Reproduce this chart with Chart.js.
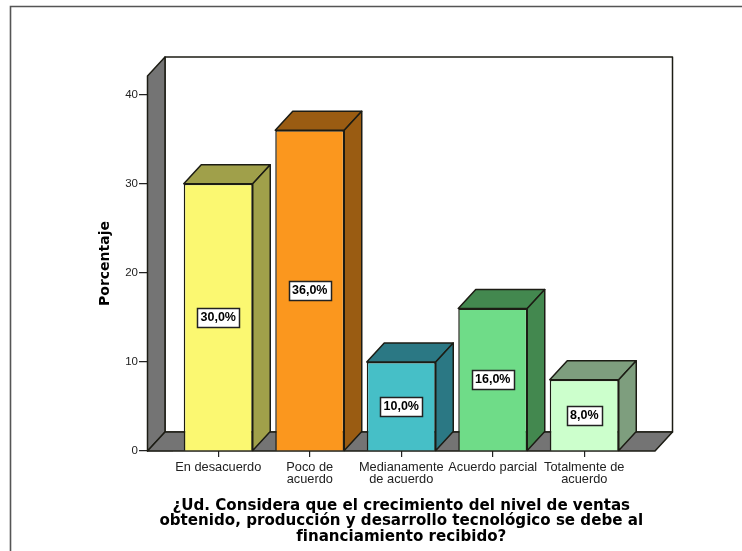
<!DOCTYPE html>
<html lang="es">
<head>
<meta charset="utf-8">
<style>html,body{margin:0;padding:0;background:#fff}canvas{display:block}</style>
<script src="https://cdn.jsdelivr.net/npm/chart.js@4"></script>
</head>
<body>
<canvas id="c" width="742" height="551"></canvas>
<script>
const categories = [
  "En desacuerdo",
  ["Poco de", "acuerdo"],
  ["Medianamente", "de acuerdo"],
  "Acuerdo parcial",
  ["Totalmente de", "acuerdo"]
];
const percentages = [30, 36, 10, 16, 8];
const yTicks = [0, 10, 20, 30, 40];
const frontColors = ["#FBF871", "#FB971E", "#46BFC7", "#6FDC88", "#CCFFCC"];
const sideColors = ["#A0A04A", "#9A5C12", "#2B7884", "#43884F", "#7E9E7E"];
const yTitle = "Porcentaje";
const xTitle = [
  "¿Ud. Considera que el crecimiento del nivel de ventas",
  "obtenido, producción y desarrollo tecnológico se debe al",
  "financiamiento recibido?"
];

const DX = 17.5, DY = 19, WALL_PAD = 25, INK = "#1c1c14", WALL = "#747474";

function poly(ctx, pts, fill, stroke, lw) {
  ctx.beginPath();
  pts.forEach((p, i) => i ? ctx.lineTo(p[0], p[1]) : ctx.moveTo(p[0], p[1]));
  ctx.closePath();
  if (fill) { ctx.fillStyle = fill; ctx.fill(); }
  if (stroke) { ctx.strokeStyle = stroke; ctx.lineWidth = lw; ctx.lineJoin = "round"; ctx.stroke(); }
}

const scene = {
  id: "scene",
  beforeDatasetsDraw(chart) {
    const { ctx, chartArea: a, scales: { y } } = chart;
    const L = a.left - WALL_PAD, R = a.right + WALL_PAD, B = y.getPixelForValue(0), T = a.top;
    ctx.save();
    // picture frame
    ctx.strokeStyle = "#555";
    ctx.lineWidth = 1.6;
    ctx.beginPath();
    ctx.moveTo(10.5, 551); ctx.lineTo(10.5, 6.5); ctx.lineTo(742, 6.5);
    ctx.stroke();
    // back panel
    poly(ctx, [[L + DX, T - DY], [R + DX, T - DY], [R + DX, B - DY], [L + DX, B - DY]], "#fff", INK, 1.5);
    // left wall
    poly(ctx, [[L, T], [L + DX, T - DY], [L + DX, B - DY], [L, B]], WALL, INK, 1.5);
    // floor
    poly(ctx, [[L, B], [L + DX, B - DY], [R + DX, B - DY], [R, B]], WALL, INK, 1.5);
    // bar depth faces
    chart.getDatasetMeta(0).data.forEach((bar, i) => {
      const hw = bar.width / 2, l = bar.x - hw, r = bar.x + hw, t = bar.y, b = bar.base;
      const c = sideColors[i];
      poly(ctx, [[l, t], [l + DX, t - DY], [r + DX, t - DY], [r, t]], c, INK, 1.5);
      poly(ctx, [[r, t], [r + DX, t - DY], [r + DX, b - DY], [r, b]], c, INK, 1.5);
    });
    // x-axis title: wider than the category band, so it is set here
    ctx.font = "bold 15.1px 'DejaVu Sans'";
    ctx.textAlign = "center";
    ctx.textBaseline = "middle";
    ctx.fillStyle = "#000";
    xTitle.forEach((line, i) => ctx.fillText(line, (a.left + a.right) / 2, a.bottom + 55 + i * 15.5));
    ctx.restore();
  },
  afterDatasetsDraw(chart) {
    const { ctx } = chart;
    ctx.save();
    ctx.font = "bold 12.5px 'Liberation Sans'";
    ctx.textAlign = "center";
    ctx.textBaseline = "middle";
    chart.getDatasetMeta(0).data.forEach((bar, i) => {
      const text = percentages[i].toFixed(1).replace(".", ",") + "%";
      const w = Math.ceil(ctx.measureText(text).width) + 6, h = 19;
      const cy = (bar.y + bar.base) / 2;
      const x = Math.round(bar.x - w / 2) + 0.5, top = Math.round(cy - h / 2) + 0.5;
      ctx.fillStyle = "#fff";
      ctx.fillRect(x, top, w, h);
      ctx.strokeStyle = "#222";
      ctx.lineWidth = 1.5;
      ctx.strokeRect(x, top, w, h);
      ctx.fillStyle = "#000";
      ctx.fillText(text, bar.x, cy + 0.5);
    });
    ctx.restore();
  }
};

new Chart(document.getElementById("c"), {
  type: "bar",
  data: {
    labels: categories,
    datasets: [{
      data: percentages,
      backgroundColor: frontColors,
      borderColor: INK,
      borderWidth: 1.5,
      barPercentage: 69 / 91.5,
      categoryPercentage: 1
    }]
  },
  plugins: [scene],
  options: {
    responsive: false,
    animation: false,
    layout: { padding: { top: 76, right: 112, left: 0, bottom: 0 } },
    plugins: { legend: { display: false }, tooltip: { enabled: false } },
    scales: {
      x: {
        afterFit(s) { s.height = 100; },
        border: { display: false },
        grid: { drawOnChartArea: false, drawTicks: true, tickLength: 6, tickColor: "#222", lineWidth: 1.2, offset: false },
        ticks: {
          autoSkip: false, maxRotation: 0, minRotation: 0, padding: 5,
          color: "#222",
          font: { family: "'Liberation Sans'", size: 12.8, lineHeight: 0.9 }
        }
      },
      y: {
        min: 0,
        max: 42.1,
        afterFit(s) { s.width = 172.5; },
        afterBuildTicks(s) { s.ticks = yTicks.map(v => ({ value: v })); },
        border: { display: false },
        grid: { drawOnChartArea: false, drawTicks: true, tickLength: 33.5, tickColor: "#222", lineWidth: 1.2 },
        ticks: {
          includeBounds: false, padding: 1, color: "#222",
          font: { family: "'Liberation Sans'", size: 11.5 }
        },
        title: {
          display: true, text: yTitle, color: "#000",
          font: { family: "'DejaVu Sans'", weight: "bold", size: 14 },
          padding: { top: 97, bottom: 0 }
        }
      }
    }
  }
});
</script>
</body>
</html>
